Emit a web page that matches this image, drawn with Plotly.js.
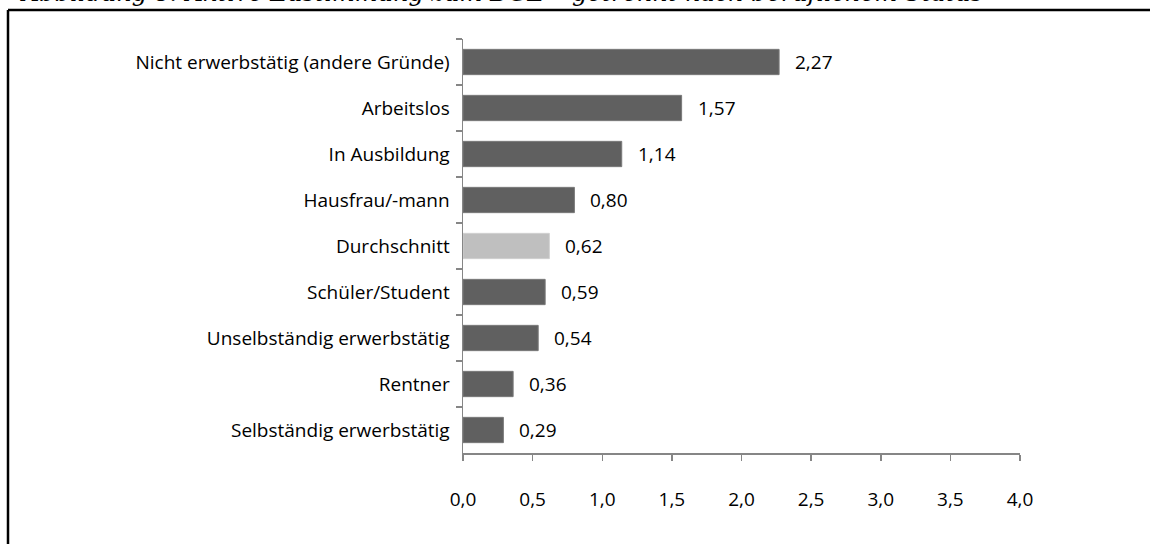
<!DOCTYPE html>
<html>
<head>
<meta charset="utf-8">
<script src="https://cdn.plot.ly/plotly-3.0.1.min.js"></script>
<style>html,body{margin:0;padding:0;background:#fff;}#chart{width:1150px;height:544px;}</style>
</head>
<body>
<div id="chart"></div>
<script>
const titleText = "Abbildung 8: Aktive Zustimmung zum BGE – getrennt nach beruflichem Status";
const categories = [
  "Nicht erwerbstätig (andere Gründe)",
  "Arbeitslos",
  "In Ausbildung",
  "Hausfrau/-mann",
  "Durchschnitt",
  "Schüler/Student",
  "Unselbständig erwerbstätig",
  "Rentner",
  "Selbständig erwerbstätig"
];
const values = [2.27, 1.57, 1.14, 0.80, 0.62, 0.59, 0.54, 0.36, 0.29];
const highlight = "Durchschnitt";
const xTicks = [0, 0.5, 1, 1.5, 2, 2.5, 3, 3.5, 4];

const fontFam = "'Open Sans', 'Noto Sans', sans-serif";
const fs = 19;
const barColors = categories.map(c => c === highlight ? "#BFBFBF" : "#606060");
const lineColors = categories.map(c => c === highlight ? "#D0D0D0" : "#7A7A7A");

const trace = {
  type: "bar",
  orientation: "h",
  x: values,
  y: categories,
  marker: {color: barColors, line: {color: lineColors, width: 1}},
  hoverinfo: "none"
};

const valueAnnotations = categories.map((c, i) => ({
  x: values[i], y: c, xref: "x", yref: "y",
  text: values[i].toFixed(2).replace(".", ","),
  showarrow: false, xanchor: "left", yanchor: "middle",
  xshift: 14,
  font: {family: fontFam, size: fs, color: "#000"}
}));

const layout = {
  width: 1150, height: 544,
  margin: {l: 463, r: 130, t: 39, b: 91},
  paper_bgcolor: "#fff", plot_bgcolor: "#fff",
  separators: ",.",
  showlegend: false,
  bargap: 0.45,
  font: {family: fontFam, size: fs, color: "#000"},
  xaxis: {
    range: [0, 4], tickvals: xTicks, tickformat: ".1f",
    showgrid: false, zeroline: false,
    showline: true, linecolor: "#868686", linewidth: 1.5,
    ticks: "outside", ticklen: 6, tickcolor: "#868686", tickwidth: 1.5,
    ticklabelstandoff: 23,
    tickfont: {family: fontFam, size: fs, color: "#000"},
    fixedrange: true
  },
  yaxis: {
    autorange: "reversed",
    type: "category",
    showgrid: false, zeroline: false,
    showline: true, linecolor: "#868686", linewidth: 1.5,
    ticks: "outside", ticklen: 6, tickcolor: "#868686", tickwidth: 1.5,
    tickson: "boundaries",
    ticklabelstandoff: 8,
    tickfont: {family: fontFam, size: fs, color: "#000"},
    fixedrange: true
  },
  shapes: [
    {type: "line", xref: "paper", yref: "paper",
     x0: (8 - 463) / 557, x1: (1152 - 463) / 557,
     y0: (453 - 10) / 414, y1: (453 - 10) / 414,
     line: {color: "#000", width: 2.5}},
    {type: "line", xref: "paper", yref: "paper",
     x0: (8 - 463) / 557, x1: (8 - 463) / 557,
     y0: (453 - 10) / 414, y1: (453 - 546) / 414,
     line: {color: "#000", width: 2.5}}
  ],
  annotations: valueAnnotations.concat([{
    xref: "paper", yref: "paper",
    x: (18 - 463) / 557, y: (453 - 9) / 414,
    xanchor: "left", yanchor: "bottom",
    text: "<i>" + titleText + "</i>",
    showarrow: false,
    font: {family: "'DejaVu Serif', serif", size: 24, color: "#000"}
  }])
};

Plotly.newPlot("chart", [trace], layout, {displayModeBar: false, staticPlot: true});
</script>
</body>
</html>
